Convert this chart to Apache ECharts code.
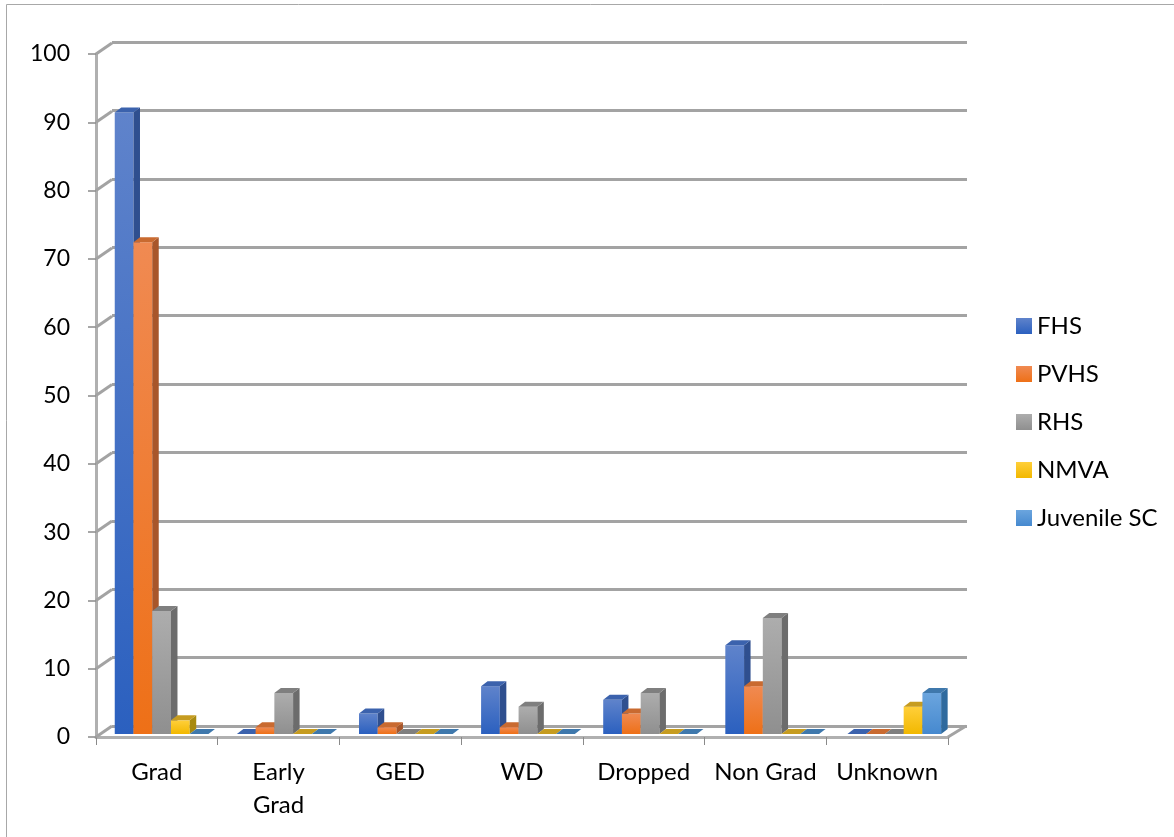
<!DOCTYPE html>
<html>
<head>
<meta charset="utf-8">
<style>html,body{margin:0;padding:0;background:#fff}#chart{width:1174px;height:837px}</style>
<script src="https://cdn.jsdelivr.net/npm/echarts@6/dist/echarts.min.js"></script>
</head>
<body>
<div id="chart"></div>
<script>
// Student outcomes by school: pseudo-3D clustered columns.
const categories = ['Grad', 'Early\nGrad', 'GED', 'WD', 'Dropped', 'Non Grad', 'Unknown'];
const FHS = [91, 0, 3, 7, 5, 13, 0];
const PVHS = [72, 1, 1, 1, 3, 7, 0];
const RHS = [18, 6, 0, 4, 6, 17, 0];
const NMVA = [2, 0, 0, 0, 0, 0, 4];
const JuvenileSC = [0, 0, 0, 0, 0, 0, 6];
const yTicks = [0, 10, 20, 30, 40, 50, 60, 70, 80, 90, 100];

const seriesDefs = [
  { name: 'FHS', values: FHS, top: '#5f83cb', bottom: '#2b60bf', side: '#2f4f8f', cap: '#3b62ad' },
  { name: 'PVHS', values: PVHS, top: '#f08a52', bottom: '#ee7017', side: '#a8562a', cap: '#c96a30' },
  { name: 'RHS', values: RHS, top: '#adadad', bottom: '#8f8f8f', side: '#6c6c6c', cap: '#7f7f7f' },
  { name: 'NMVA', values: NMVA, top: '#ffcf3a', bottom: '#f2b800', side: '#a88a10', cap: '#c69c20' },
  { name: 'Juvenile SC', values: JuvenileSC, top: '#6ba5de', bottom: '#4689cf', side: '#2f6a9e', cap: '#3f78ac' }
];

const FONT = 'Lato';
const LABEL = '#000000';
const WALL = '#a3a3a3';
const DEPTH_X = 6.5, DEPTH_Y = 5;    // column extrusion
const FLOOR_X = 4.75, FLOOR_Y = 3;   // columns stand slightly behind the front edge
const BAND_DRIFT = 0.4;              // slight perspective spread across the bands
const WALL_X = 16, WALL_Y = 11;      // side wall slant
const BAR_SHARE = 0.154;             // column width relative to a category band

function columnRenderer(def, index) {
  return function (params, api) {
    const cat = api.value(0), val = api.value(1);
    const band = api.size([1, 0])[0];
    const w = band * BAR_SHARE;
    const base = api.coord([cat, 0]);
    const head = api.coord([cat, val]);
    const x0 = base[0] + FLOOR_X + cat * BAND_DRIFT + (index - 2.5) * w;
    const x1 = x0 + w;
    const y0 = base[1] - FLOOR_Y;
    const y1 = head[1] - FLOOR_Y;
    const children = [];
    if (val > 0) {
      children.push({
        type: 'rect',
        shape: { x: x0, y: y1, width: w, height: y0 - y1 },
        style: { fill: new echarts.graphic.LinearGradient(0, 0, 0, 1, [
          { offset: 0, color: def.top }, { offset: 1, color: def.bottom }
        ]) }
      });
      children.push({
        type: 'polygon',
        shape: { points: [[x1, y1], [x1 + DEPTH_X, y1 - DEPTH_Y], [x1 + DEPTH_X, y0 - DEPTH_Y], [x1, y0]] },
        style: { fill: def.side }
      });
    }
    children.push({
      type: 'polygon',
      shape: { points: [[x0, y1], [x1, y1], [x1 + DEPTH_X, y1 - DEPTH_Y], [x0 + DEPTH_X, y1 - DEPTH_Y]] },
      style: { fill: def.cap }
    });
    return { type: 'group', children: children };
  };
}

const columnSeries = seriesDefs.map(function (def, index) {
  return {
    name: def.name,
    type: 'custom',
    xAxisIndex: 0,
    yAxisIndex: 0,
    z: 3 + index,
    clip: false,
    encode: { x: 0, y: 1 },
    itemStyle: { color: new echarts.graphic.LinearGradient(0, 0, 0, 1, [
      { offset: 0, color: def.top }, { offset: 1, color: def.bottom }
    ]) },
    data: def.values.map(function (v, i) { return [i, v]; }),
    renderItem: columnRenderer(def, index)
  };
});

// Slanted side-wall and floor edges joining the front axes to the back wall.
const wallEdges = {
  type: 'custom',
  xAxisIndex: 0,
  yAxisIndex: 0,
  silent: true,
  z: 1,
  clip: false,
  encode: { x: 0, y: 1 },
  data: yTicks.map(function (t) { return [0, t]; }),
  renderItem: function (params, api) {
    const y = api.coord([0, api.value(1)])[1];
    const cs = params.coordSys;
    const lines = [{
      type: 'line',
      shape: { x1: cs.x, y1: y, x2: cs.x + WALL_X, y2: y - WALL_Y },
      style: { stroke: WALL, lineWidth: 3 }
    }];
    if (api.value(1) === 0) {
      lines.push({
        type: 'line',
        shape: { x1: cs.x + cs.width, y1: y, x2: cs.x + cs.width + WALL_X + 2, y2: y - WALL_Y },
        style: { stroke: WALL, lineWidth: 3 }
      });
    }
    return { type: 'group', children: lines };
  }
};

const chart = echarts.init(document.getElementById('chart'), null, { renderer: 'canvas' });
chart.setOption({
  animation: false,
  backgroundColor: '#ffffff',
  textStyle: { fontFamily: FONT },
  legend: {
    orient: 'vertical',
    left: 1011,
    top: 309,
    itemWidth: 16,
    itemHeight: 16,
    itemGap: 24,
    icon: 'rect',
    textStyle: { fontFamily: FONT, fontSize: 24, color: LABEL },
    data: seriesDefs.map(function (d) { return d.name; })
  },
  grid: [
    { left: 96, right: 226, top: 54, bottom: 100 },
    { left: 112, right: 207, top: 42, bottom: 111 }
  ],
  xAxis: [
    {
      type: 'category',
      gridIndex: 0,
      data: categories,
      axisLine: { lineStyle: { color: '#b0b0b0', width: 3 } },
      axisTick: { show: true, length: 8, alignWithLabel: false, lineStyle: { color: '#8a8a8a', width: 1 } },
      axisLabel: { fontFamily: FONT, fontSize: 24, color: LABEL, margin: 19, lineHeight: 33, interval: 0 },
      splitLine: { show: false }
    },
    { type: 'category', gridIndex: 1, data: categories, show: false }
  ],
  yAxis: [
    {
      type: 'value',
      gridIndex: 0,
      min: 0,
      max: 100,
      interval: 10,
      axisLine: { show: true, lineStyle: { color: '#b0b0b0', width: 3 } },
      axisTick: { show: true, length: 8, lineStyle: { color: '#8a8a8a', width: 1.5 } },
      axisLabel: { fontFamily: FONT, fontSize: 23, color: LABEL, margin: 26 },
      splitLine: { show: false }
    },
    {
      type: 'value',
      gridIndex: 1,
      min: 0,
      max: 100,
      interval: 10,
      axisLine: { show: false },
      axisTick: { show: false },
      axisLabel: { show: false },
      splitLine: { show: true, lineStyle: { color: WALL, width: 3 } }
    }
  ],
  // Thin frame around the chart area (top and left edges).
  graphic: [
    { type: 'line', silent: true, shape: { x1: 6.5, y1: 4.5, x2: 1174, y2: 4.5 }, style: { stroke: '#a8a8a8', lineWidth: 1 } },
    { type: 'line', silent: true, shape: { x1: 6.5, y1: 4.5, x2: 6.5, y2: 837 }, style: { stroke: '#a8a8a8', lineWidth: 1 } }
  ],
  series: [wallEdges].concat(columnSeries)
});
</script>
</body>
</html>
